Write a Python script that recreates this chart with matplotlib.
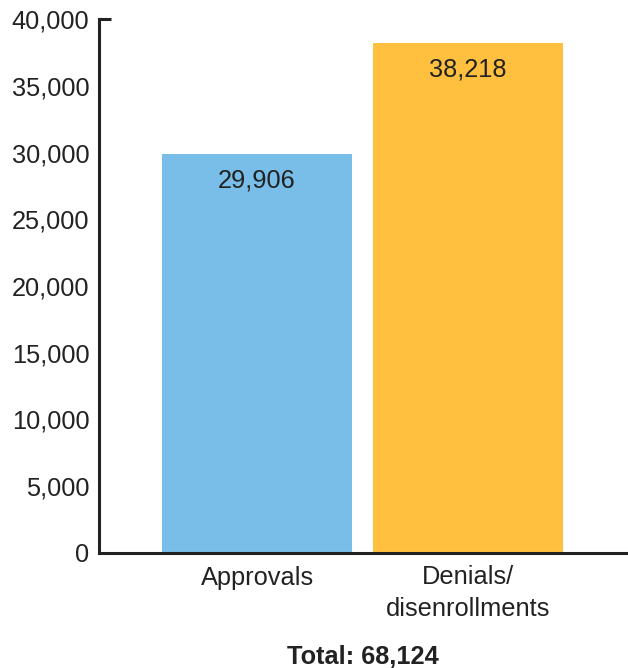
#! /usr/bin/env python3

import matplotlib
matplotlib.use('Agg')
import matplotlib.pyplot as plt
import matplotlib.transforms as mtransforms

categories = ['Approvals', 'Denials/\ndisenrollments']
counts = [29906, 38218]
total_label = 'Total: 68,124'
yticks = [0, 5000, 10000, 15000, 20000, 25000, 30000, 35000, 40000]

colors = ['#78bee9', '#fec03e']
ink = '#222222'
fs = 18.3

plt.rcParams['font.family'] = ['Liberation Sans', 'DejaVu Sans']

fig = plt.figure(figsize=(6.28, 6.68), dpi=100)
ax = fig.add_axes([99/628, 115/668, 1 - 99/628, (553 - 19)/668])

xs = list(range(len(categories)))
bars = ax.bar(xs, counts, width=0.9, color=colors)

for x, v in zip(xs, counts):
    ax.annotate(f'{v:,}', (x, v), xytext=(0, -19), textcoords='offset points',
                ha='center', va='center', fontsize=fs, color=ink)

ax.set_xlim(-0.75, 1.76)
ax.set_ylim(0, 40000)
ax.set_yticks(yticks)
ax.set_yticklabels([f'{t:,}' for t in yticks])
ax.set_xticks(xs)
ax.set_xticklabels(categories, linespacing=1.4)
ax.tick_params(axis='y', length=0, pad=7, labelsize=fs, labelcolor=ink)
ax.tick_params(axis='x', length=0, pad=9, labelsize=fs, labelcolor=ink)

for side in ['top', 'right']:
    ax.spines[side].set_visible(False)
for side in ['left', 'bottom']:
    ax.spines[side].set_linewidth(2.2)
    ax.spines[side].set_color(ink)

# little cap at the top of the y axis
trans = mtransforms.blended_transform_factory(ax.transAxes, ax.transData)
ax.plot([0, 0.023], [40000, 40000], color=ink, lw=2.2, transform=trans,
        clip_on=False, solid_capstyle='butt')

ax.text(0.5, -0.194, total_label, transform=mtransforms.blended_transform_factory(ax.transData, ax.transAxes),
        ha='center', va='center', fontsize=fs, fontweight='bold', color=ink)

fig.savefig('out.png', dpi=100)
